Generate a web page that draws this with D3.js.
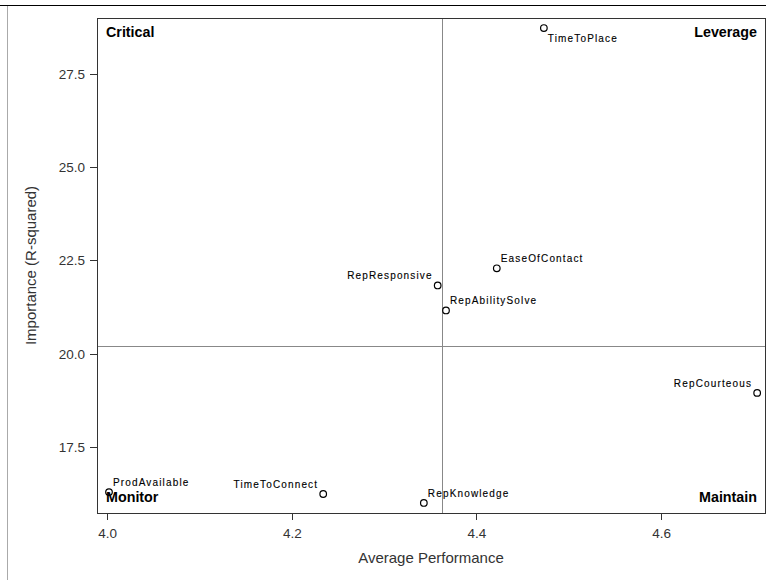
<!DOCTYPE html>
<html>
<head>
<meta charset="utf-8">
<script src="https://cdn.jsdelivr.net/npm/d3@7"></script>
<style>
  body { margin: 0; background: #fff; }
  svg { display: block; font-family: Arial, 'Liberation Sans', sans-serif; }
</style>
</head>
<body>
<div id="chart"></div>
<script>
const names = ['TimeToPlace', 'EaseOfContact', 'RepResponsive', 'RepAbilitySolve', 'RepCourteous', 'ProdAvailable', 'TimeToConnect', 'RepKnowledge']
const performance = [4.473, 4.422, 4.358, 4.367, 4.704, 4.002, 4.234, 4.343]
const importance = [28.73, 22.29, 21.83, 21.16, 18.95, 16.29, 16.24, 16.0]
// where each label sits relative to its point
const labelPos = ['br', 'tr', 'tl', 'tr', 'tl', 'tr', 'tl', 'tr']
const xTicks = [4.0, 4.2, 4.4, 4.6]
const yTicks = [17.5, 20.0, 22.5, 25.0, 27.5]
const quadrants = ['Critical', 'Leverage', 'Monitor', 'Maintain']

const width = 770
const height = 580
const margin = { top: 18, right: 5, bottom: 67, left: 97 }
const iw = width - margin.left - margin.right
const ih = height - margin.top - margin.bottom

const svg = d3.select('#chart').append('svg')
  .attr('width', width)
  .attr('height', height)

// outer frame bits
svg.append('line').attr('x1', 0).attr('x2', 766).attr('y1', 5.5).attr('y2', 5.5)
  .attr('stroke', '#000').attr('stroke-width', 1)
svg.append('line').attr('x1', 7.5).attr('x2', 7.5).attr('y1', 6).attr('y2', height)
  .attr('stroke', '#aaa').attr('stroke-width', 1)

const x = d3.scaleLinear().domain([3.989, 4.7125]).range([0, iw])
const y = d3.scaleLinear().domain([15.73, 29.0]).range([ih, 0])

const g = svg.append('g').attr('transform', `translate(${margin.left},${margin.top})`)

const xAxis = g.append('g').attr('transform', `translate(0,${ih})`)
  .call(d3.axisBottom(x).tickValues(xTicks).tickFormat(d3.format('.1f')).tickSize(7).tickPadding(8))
const yAxis = g.append('g')
  .call(d3.axisLeft(y).tickValues(yTicks).tickFormat(d3.format('.1f')).tickSize(7).tickPadding(5))

;[xAxis, yAxis].forEach((a) => {
  a.select('.domain').remove()
  a.selectAll('line').attr('stroke', '#333').attr('shape-rendering', 'crispEdges')
  a.selectAll('text').attr('fill', '#333').attr('font-size', 13.5)
    .style('font-family', 'Arial, "Liberation Sans", sans-serif')
})

// reference lines at the means
const mx = d3.mean(performance)
const my = d3.mean(importance)
g.append('line').attr('x1', x(mx)).attr('x2', x(mx)).attr('y1', 0).attr('y2', ih)
  .attr('stroke', '#888').attr('shape-rendering', 'crispEdges')
g.append('line').attr('x1', 0).attr('x2', iw).attr('y1', y(my)).attr('y2', y(my))
  .attr('stroke', '#888').attr('shape-rendering', 'crispEdges')

g.append('rect').attr('width', iw).attr('height', ih)
  .attr('fill', 'none').attr('stroke', '#333').attr('shape-rendering', 'crispEdges')

// quadrant names
const qpos = [[9, 19, 'start'], [iw - 8, 19, 'end'], [9, ih - 11, 'start'], [iw - 8, ih - 11, 'end']]
quadrants.forEach((q, i) => {
  g.append('text').attr('x', qpos[i][0]).attr('y', qpos[i][1])
    .attr('text-anchor', qpos[i][2]).attr('font-size', 14.3).attr('font-weight', 'bold')
    .attr('fill', '#000').text(q)
})

const pts = names.map((n, i) => ({ name: n, px: performance[i], py: importance[i], pos: labelPos[i] }))

g.selectAll('circle.pt').data(pts).enter().append('circle')
  .attr('class', 'pt')
  .attr('cx', (d) => x(d.px))
  .attr('cy', (d) => y(d.py))
  .attr('r', 3.3)
  .attr('fill', 'none')
  .attr('stroke', '#000')
  .attr('stroke-width', 1.2)

g.selectAll('text.lbl').data(pts).enter().append('text')
  .attr('class', 'lbl')
  .attr('x', (d) => x(d.px) + (d.pos[1] === 'r' ? 4 : -5))
  .attr('y', (d) => y(d.py) + (d.pos[0] === 'b' ? 14 : -6))
  .attr('text-anchor', (d) => (d.pos[1] === 'r' ? 'start' : 'end'))
  .attr('font-size', 10)
  .attr('letter-spacing', 1.15)
  .attr('fill', '#000')
  .attr('stroke', '#000')
  .attr('stroke-width', 0.12)
  .text((d) => d.name)

svg.append('text')
  .attr('x', margin.left + iw / 2).attr('y', 563)
  .attr('text-anchor', 'middle').attr('font-size', 15).attr('fill', '#333')
  .text('Average Performance')

svg.append('text')
  .attr('transform', `translate(36,${margin.top + ih / 2}) rotate(-90)`)
  .attr('text-anchor', 'middle').attr('font-size', 15).attr('fill', '#333')
  .text('Importance (R-squared)')
</script>
</body>
</html>
